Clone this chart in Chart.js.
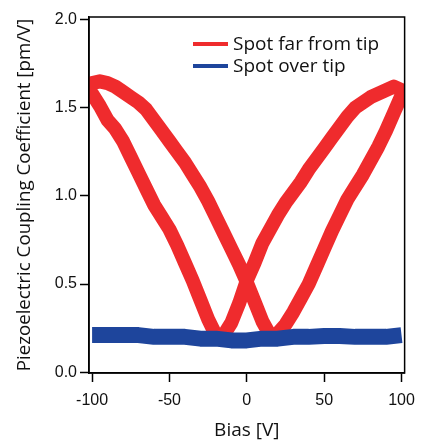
<!DOCTYPE html>
<html>
<head>
<meta charset="utf-8">
<script src="https://cdn.jsdelivr.net/npm/chart.js@4.4.0/dist/chart.umd.min.js"></script>
<style>
  html, body { margin: 0; padding: 0; background: #fff; }
  #wrap { width: 424px; height: 442px; }
</style>
</head>
<body>
<div id="wrap"><canvas id="pfmChart" width="424" height="442"></canvas></div>
<script>
// Spot far from tip: forward sweep (-100 -> 100 V)
const biasFarFwd = [-100, -95, -90, -85, -80, -75, -70, -65, -60, -55, -50, -45, -40, -35, -30, -25, -20, -15, -10, -5, 0, 5, 10, 15, 18, 20, 25, 30, 35, 40, 45, 50, 55, 60, 65, 70, 75, 80, 85, 90, 95, 100];
const pfmFarFwd = [1.64, 1.65, 1.64, 1.62, 1.59, 1.56, 1.53, 1.49, 1.43, 1.37, 1.31, 1.25, 1.19, 1.12, 1.05, 0.97, 0.88, 0.79, 0.70, 0.61, 0.51, 0.40, 0.29, 0.21, 0.19, 0.22, 0.27, 0.34, 0.42, 0.50, 0.60, 0.70, 0.80, 0.89, 0.98, 1.05, 1.12, 1.20, 1.28, 1.37, 1.47, 1.57];

// Spot far from tip: reverse sweep (100 -> -100 V)
const biasFarRev = [100, 95, 90, 85, 80, 75, 70, 65, 60, 55, 50, 45, 40, 35, 30, 25, 20, 15, 10, 5, 0, -5, -10, -15, -18, -20, -25, -30, -35, -40, -45, -50, -55, -60, -65, -70, -75, -80, -85, -90, -95, -100];
const pfmFarRev = [1.60, 1.62, 1.60, 1.58, 1.56, 1.53, 1.50, 1.45, 1.39, 1.33, 1.27, 1.21, 1.15, 1.08, 1.02, 0.96, 0.89, 0.81, 0.73, 0.62, 0.52, 0.39, 0.28, 0.21, 0.19, 0.21, 0.30, 0.41, 0.52, 0.62, 0.72, 0.81, 0.88, 0.95, 1.04, 1.13, 1.22, 1.31, 1.38, 1.43, 1.51, 1.58];

// Spot over tip
const biasOverTip = [-100, -90, -80, -70, -60, -50, -40, -30, -20, -10, 0, 10, 20, 30, 40, 50, 60, 70, 80, 90, 100];
const pfmOverTip = [0.21, 0.21, 0.21, 0.21, 0.20, 0.20, 0.20, 0.19, 0.19, 0.18, 0.18, 0.19, 0.19, 0.20, 0.20, 0.205, 0.205, 0.20, 0.20, 0.20, 0.21];

const seriesLabels = ['Spot far from tip', 'Spot over tip'];
const xTickValues = [-100, -50, 0, 50, 100];
const yTickValues = [0, 0.5, 1.0, 1.5, 2.0];

const RED = '#ef2b2d';
const BLUE = '#1e459c';
const TITLE_FONT = '"Open Sans", "Noto Sans", sans-serif';
const TICK_FONT = '"Liberation Sans", Arial, sans-serif';

function toPoints(xs, ys) {
    return xs.map((x, i) => ({ x: x, y: ys[i] }));
}

const farPoints = toPoints(biasFarFwd, pfmFarFwd).concat(toPoints(biasFarRev, pfmFarRev));
const tipPoints = toPoints(biasOverTip, pfmOverTip);

// frame around the plot area + legend inside it
const framePlugin = {
    id: 'frame',
    afterDraw(chart) {
        const { ctx, chartArea: a } = chart;
        ctx.save();
        ctx.strokeStyle = '#000';
        ctx.lineWidth = 1.5;
        ctx.strokeRect(a.left, a.top, a.right - a.left, a.bottom - a.top);

        // legend
        const items = [
            { label: seriesLabels[0], color: RED },
            { label: seriesLabels[1], color: BLUE }
        ];
        ctx.font = '19px ' + TITLE_FONT;
        ctx.textBaseline = 'middle';
        items.forEach((item, i) => {
            const y = 44 + i * 22;
            ctx.strokeStyle = item.color;
            ctx.lineWidth = 4;
            ctx.beginPath();
            ctx.moveTo(193, y);
            ctx.lineTo(228, y);
            ctx.stroke();
            ctx.fillStyle = '#111';
            ctx.fillText(item.label, 233, y + 1);
        });
        ctx.restore();
    }
};

const ctx = document.getElementById('pfmChart').getContext('2d');
new Chart(ctx, {
    type: 'scatter',
    data: {
        datasets: [
            {
                label: seriesLabels[1],
                data: tipPoints,
                showLine: true,
                borderColor: BLUE,
                borderWidth: 16,
                pointRadius: 0,
                borderJoinStyle: 'round',
                borderCapStyle: 'butt',
                tension: 0,
                clip: 0
            },
            {
                label: seriesLabels[0],
                data: farPoints,
                showLine: true,
                borderColor: RED,
                borderWidth: 14,
                pointRadius: 0,
                borderJoinStyle: 'round',
                borderCapStyle: 'round',
                tension: 0,
                clip: 0
            }
        ]
    },
    options: {
        responsive: false,
        animation: false,
        devicePixelRatio: 1,
        layout: { padding: { top: 17, right: 13, left: 0, bottom: 0 } },
        plugins: {
            legend: { display: false },
            tooltip: { enabled: false }
        },
        scales: {
            x: {
                type: 'linear',
                min: -102,
                max: 102,
                afterBuildTicks: (s) => { s.ticks = xTickValues.map(v => ({ value: v })); },
                afterFit: (s) => { s.height = 69; },
                grid: { display: true, drawOnChartArea: false, drawTicks: true, tickLength: 9, tickWidth: 1.5, tickColor: '#000' },
                border: { display: true, color: '#000', width: 1.5 },
                ticks: {
                    color: '#111',
                    font: { family: TICK_FONT, size: 16 },
                    padding: 9,
                    maxRotation: 0,
                    autoSkip: false,
                    callback: (v) => String(v)
                },
                title: {
                    display: true,
                    text: 'Bias [V]',
                    color: '#111',
                    font: { family: TITLE_FONT, size: 19 },
                    padding: { top: 0, bottom: 0 }
                }
            },
            y: {
                type: 'linear',
                min: -0.005,
                max: 2.015,
                afterBuildTicks: (s) => { s.ticks = yTickValues.map(v => ({ value: v })); },
                afterFit: (s) => { s.width = 89; },
                grid: { display: true, drawOnChartArea: false, drawTicks: true, tickLength: 9, tickWidth: 1.5, tickColor: '#000' },
                border: { display: true, color: '#000', width: 1.5 },
                ticks: {
                    color: '#111',
                    font: { family: TICK_FONT, size: 16 },
                    padding: 3,
                    callback: (v) => Number(v).toFixed(1)
                },
                title: {
                    display: true,
                    text: 'Piezoelectric Coupling Coefficient [pm/V]',
                    color: '#111',
                    font: { family: TITLE_FONT, size: 18.7 },
                    padding: { top: 13, bottom: 0 }
                }
            }
        }
    },
    plugins: [framePlugin]
});
</script>
</body>
</html>
